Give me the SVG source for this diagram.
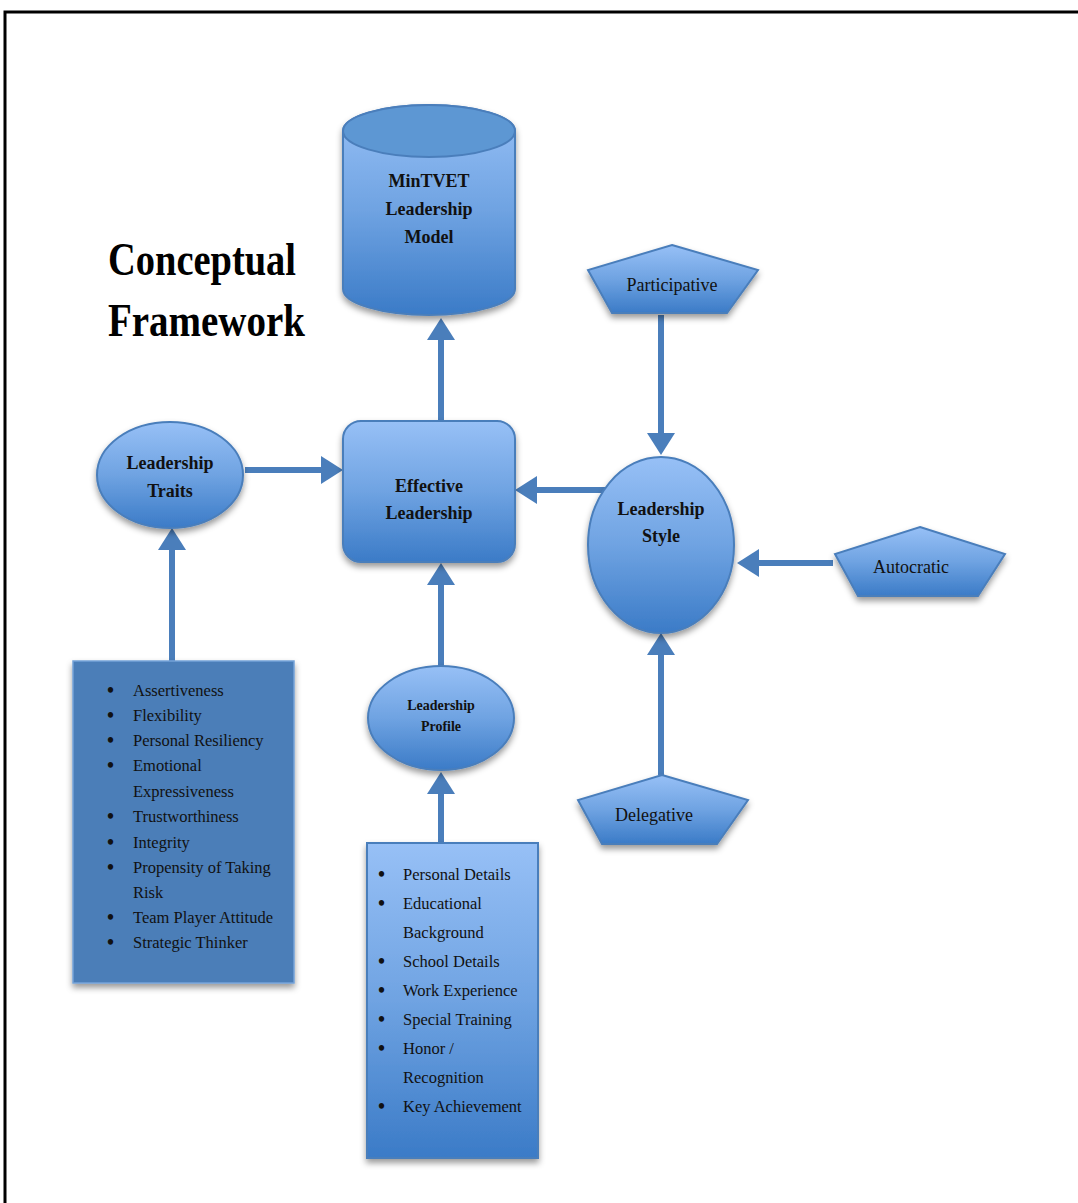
<svg xmlns="http://www.w3.org/2000/svg" width="1078" height="1203" viewBox="0 0 1078 1203">
<defs>
<linearGradient id="g" x1="0" y1="0" x2="0" y2="1">
<stop offset="0" stop-color="#97C0F6"/>
<stop offset="0.5" stop-color="#6FA3E2"/>
<stop offset="1" stop-color="#3B7BC7"/>
</linearGradient>
<filter id="sh" x="-20%" y="-20%" width="140%" height="150%">
<feDropShadow dx="0" dy="4" stdDeviation="3" flood-color="#000" flood-opacity="0.4"/>
</filter>
<marker id="ah" viewBox="0 0 22 28" refX="0" refY="14" markerWidth="22" markerHeight="28" markerUnits="userSpaceOnUse" orient="auto">
<path d="M0,0 L22,14 L0,28 z" fill="#4A7EBB"/>
</marker>
<style>
.shape{fill:url(#g);stroke:#4A7EBB;stroke-width:2;filter:url(#sh)}
.lbl{font-family:"Liberation Serif",serif;font-weight:bold;font-size:18px;fill:#111;text-anchor:middle}
.reg{font-family:"Liberation Serif",serif;font-size:18px;fill:#111;text-anchor:middle}
.li{font-family:"Liberation Serif",serif;font-size:16.5px;fill:#111}
.bu{font-family:"Liberation Serif",serif;font-size:20px;font-weight:bold;fill:#111}
.title{font-family:"Liberation Serif",serif;font-weight:bold;font-size:46px;fill:#000}
.con{stroke:#4A7EBB;stroke-width:6;fill:none;marker-end:url(#ah)}
</style>
</defs>
<rect width="1078" height="1203" fill="#fff"/>
<path d="M5,1203 V12 H1078" fill="none" stroke="#000" stroke-width="3"/>

<g id="title">
<text class="title" x="108" y="275" textLength="188" lengthAdjust="spacingAndGlyphs">Conceptual</text>
<text class="title" x="108" y="336" textLength="197" lengthAdjust="spacingAndGlyphs">Framework</text>
</g>

<g id="connectors">
<line class="con" x1="245" y1="470" x2="321" y2="470"/>
<line class="con" x1="441" y1="421" x2="441" y2="340"/>
<line class="con" x1="613" y1="490" x2="537" y2="490"/>
<line class="con" x1="661" y1="315" x2="661" y2="433"/>
<line class="con" x1="833" y1="563" x2="759" y2="563"/>
<line class="con" x1="661" y1="775" x2="661" y2="655"/>
<line class="con" x1="441" y1="667" x2="441" y2="585"/>
<line class="con" x1="441" y1="843" x2="441" y2="794"/>
<line class="con" x1="172" y1="662" x2="172" y2="550"/>
</g>

<g id="model">
<path class="shape" d="M343,131 V289 A86,26 0 0 0 515,289 V131 A86,26 0 0 0 343,131 z"/>
<ellipse cx="429" cy="131" rx="86" ry="26" fill="#5D97D3" stroke="#4A7EBB" stroke-width="2"/>
<text class="lbl" x="429" y="187">MinTVET</text>
<text class="lbl" x="429" y="215">Leadership</text>
<text class="lbl" x="429" y="243">Model</text>
</g>

<g id="effective">
<rect class="shape" x="343" y="421" width="172" height="141" rx="18"/>
<text class="lbl" x="429" y="492">Effective</text>
<text class="lbl" x="429" y="519">Leadership</text>
</g>

<g id="traits">
<ellipse class="shape" cx="170" cy="475" rx="73" ry="53"/>
<text class="lbl" x="170" y="469">Leadership</text>
<text class="lbl" x="170" y="497">Traits</text>
</g>

<g id="style">
<ellipse class="shape" cx="661" cy="545" rx="73" ry="88"/>
<text class="lbl" x="661" y="515">Leadership</text>
<text class="lbl" x="661" y="542">Style</text>
</g>

<g id="participative">
<polygon class="shape" points="672,245 758,270 727,313 612,313 588,270"/>
<text class="reg" x="672" y="291">Participative</text>
</g>

<g id="autocratic">
<polygon class="shape" points="920,527 1005,554 978,596 858,596 835,554"/>
<text class="reg" x="911" y="573">Autocratic</text>
</g>

<g id="delegative">
<polygon class="shape" points="662,775 748,800 717,844 602,844 578,800"/>
<text class="reg" x="654" y="821">Delegative</text>
</g>

<g id="profile">
<ellipse class="shape" cx="441" cy="718" rx="73" ry="52"/>
<text class="lbl" x="441" y="710" style="font-size:14px">Leadership</text>
<text class="lbl" x="441" y="731" style="font-size:14px">Profile</text>
</g>

<g id="traits-list">
<rect x="73" y="661" width="221" height="322" fill="#4B7EB8" stroke="#74A3D8" stroke-width="1.5" filter="url(#sh)"/>
<g class="bu">
<text x="107" y="697">•</text><text x="107" y="722">•</text><text x="107" y="747">•</text><text x="107" y="772">•</text><text x="107" y="823">•</text><text x="107" y="849">•</text><text x="107" y="874">•</text><text x="107" y="924">•</text><text x="107" y="949">•</text>
</g>
<g class="li">
<text x="133" y="696">Assertiveness</text>
<text x="133" y="721">Flexibility</text>
<text x="133" y="746">Personal Resiliency</text>
<text x="133" y="771">Emotional</text>
<text x="133" y="797">Expressiveness</text>
<text x="133" y="822">Trustworthiness</text>
<text x="133" y="848">Integrity</text>
<text x="133" y="873">Propensity of Taking</text>
<text x="133" y="898">Risk</text>
<text x="133" y="923">Team Player Attitude</text>
<text x="133" y="948">Strategic Thinker</text>
</g>
</g>

<g id="profile-list">
<rect class="shape" x="367" y="843" width="171" height="315"/>
<g class="bu">
<text x="378" y="881">•</text><text x="378" y="910">•</text><text x="378" y="968">•</text><text x="378" y="997">•</text><text x="378" y="1026">•</text><text x="378" y="1055">•</text><text x="378" y="1113">•</text>
</g>
<g class="li">
<text x="403" y="880">Personal Details</text>
<text x="403" y="909">Educational</text>
<text x="403" y="938">Background</text>
<text x="403" y="967">School Details</text>
<text x="403" y="996">Work Experience</text>
<text x="403" y="1025">Special Training</text>
<text x="403" y="1054">Honor /</text>
<text x="403" y="1083">Recognition</text>
<text x="403" y="1112">Key Achievement</text>
</g>
</g>
</svg>
